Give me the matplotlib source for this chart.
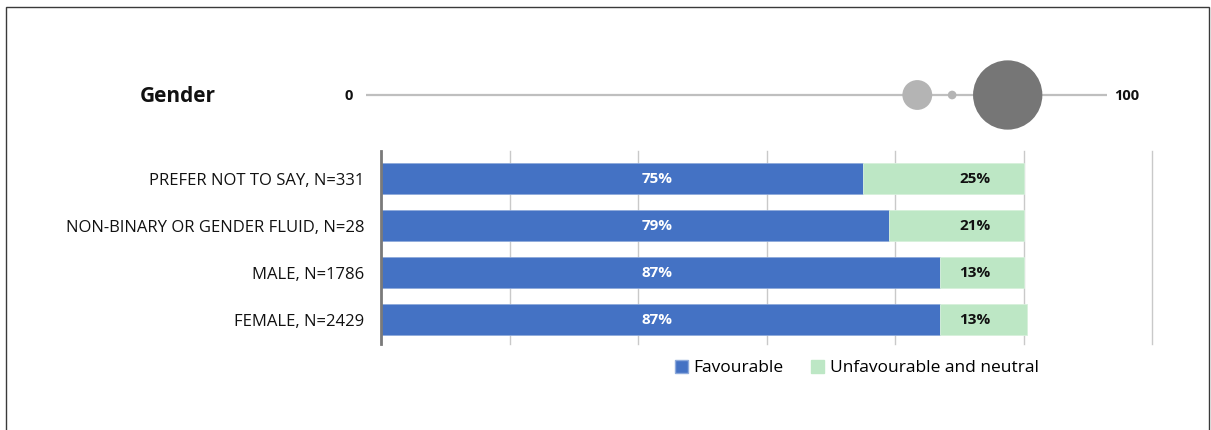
import matplotlib.pyplot as plt
from matplotlib.patches import Rectangle, Patch

plt.rcParams['font.family'] = ['Open Sans', 'DejaVu Sans']

# bar chart data (top row first)
categories = ['PREFER NOT TO SAY, N=331', 'NON-BINARY OR GENDER FLUID, N=28',
              'MALE, N=1786', 'FEMALE, N=2429']
favourable = [75, 79, 87, 87]
unfavourable = [25, 21, 13, 13.6]
fav_labels = ['75%', '79%', '87%', '87%']
unfav_labels = ['25%', '21%', '13%', '13%']

# summary strip above the bars (score 0-100, group size)
dot_scores = [74.4, 79.1, 86.6]
dot_counts = [331, 28, 1786]
dot_colors = ['#b4b4b4', '#b4b4b4', '#767676']

W, H = 1211, 430
fig = plt.figure(figsize=(W / 100, H / 100), dpi=100)

def box(x0, y0, x1, y1):
    # pixel box (from top-left) -> figure fraction
    return [x0 / W, 1 - y1 / H, (x1 - x0) / W, (y1 - y0) / H]

# frame around the whole chart
fig.patches.append(Rectangle((6 / W, -0.05), (1209 - 6) / W, 1.05 - 7 / H,
                             transform=fig.transFigure, fill=False,
                             edgecolor='#3a3a3a', lw=1.0, clip_on=False))

# --- top strip ---
ax_top = fig.add_axes(box(366, 55, 1107, 135))
ax_top.plot([0, 100], [0, 0], color='#bfbfbf', lw=1.6, zorder=1, solid_capstyle='butt')
sizes = [(2 * 0.82 * n ** 0.5 * 0.72) ** 2 for n in dot_counts]
ax_top.scatter(dot_scores, [0] * len(dot_scores), s=sizes, c=dot_colors,
               linewidths=0, zorder=2)
ax_top.set_xlim(0, 100)
ax_top.set_ylim(-1, 1)
ax_top.axis('off')

fig.text(178 / W, 1 - 96 / H, 'Gender', ha='center', va='center',
         fontsize=15, fontweight='bold', color='#111111')
fig.text(349 / W, 1 - 96 / H, '0', ha='center', va='center',
         fontsize=10.5, fontweight='bold', color='#111111')
fig.text(1127 / W, 1 - 96 / H, '100', ha='center', va='center',
         fontsize=10.5, fontweight='bold', color='#111111')

# --- stacked bars ---
ax = fig.add_axes(box(381, 151, 1152, 344))
y = list(range(len(categories)))
ax.barh(y, favourable, height=0.66, color='#4472c4', edgecolor='#8eaadb',
        linewidth=0.6, zorder=2)
ax.barh(y, unfavourable, left=favourable, height=0.66, color='#bde7c5',
        edgecolor='#d6f0db', linewidth=0.6, zorder=2)

for i in y:
    ax.text(43, i, fav_labels[i], ha='center', va='center', color='white',
            fontsize=11, fontweight='bold', zorder=3)
    ax.text(92.4, i, unfav_labels[i], ha='center', va='center', color='#111111',
            fontsize=11, fontweight='bold', zorder=3)

ax.set_xlim(0, 120)
ax.set_ylim(3.52, -0.59)
ax.set_xticks(range(0, 121, 20))
ax.set_xticklabels([])
ax.grid(axis='x', color='#c9c9c9', lw=1.0, zorder=0)
for gl in ax.get_xgridlines():
    gl.set_clip_on(False)
ax.set_yticks(y)
ax.set_yticklabels(categories, fontsize=12, color='#111111')
ax.tick_params(axis='both', length=0, pad=12)
for s in ['top', 'right', 'bottom']:
    ax.spines[s].set_visible(False)
ax.spines['left'].set_color('#7a7a7a')
ax.spines['left'].set_linewidth(2)
ax.set_axisbelow(True)

handles = [Patch(facecolor='#4472c4', edgecolor='#8eaadb', label='Favourable'),
           Patch(facecolor='#bde7c5', edgecolor='#bde7c5', label='Unfavourable and neutral')]
fig.legend(handles=handles, loc='center', bbox_to_anchor=(857 / W, 1 - 368 / H),
           ncol=2, frameon=False, fontsize=12.5, handlelength=0.75, handleheight=0.75,
           handletextpad=0.3, columnspacing=1.6)

fig.savefig('out.png', dpi=100)
